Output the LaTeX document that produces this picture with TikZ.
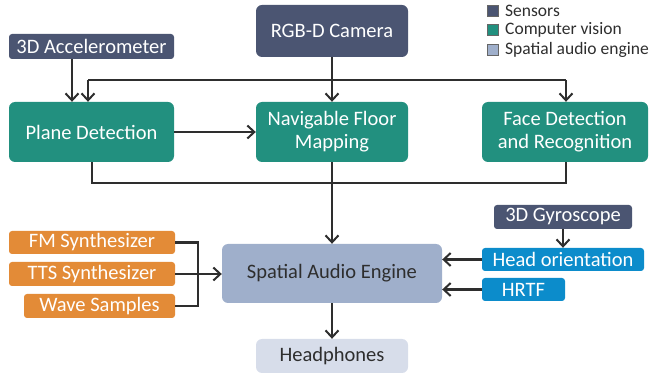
\documentclass[tikz,border=0pt]{standalone}
\usepackage{fontspec}
\setmainfont{Carlito}
\usetikzlibrary{arrows.meta}
\definecolor{sensor}{HTML}{4B5572}
\definecolor{cv}{HTML}{22907F}
\definecolor{sae}{HTML}{9FAFCB}
\definecolor{hp}{HTML}{D7DDEA}
\definecolor{orng}{HTML}{E38B37}
\definecolor{blu}{HTML}{0C8CCB}
\definecolor{txt}{HTML}{2E2E2E}
\tikzset{
  box/.style={rectangle, inner sep=0pt, align=center, font=\fontsize{20.5}{23}\selectfont},
  big/.style={box, rounded corners=6pt},
  small/.style={box, rounded corners=3pt},
  arr/.style={line width=2.2pt, draw=txt, -{Straight Barb[length=7pt,width=13pt,line width=2pt]}},
  ln/.style={line width=2.2pt, draw=txt},
  leg/.style={rectangle, draw=gray!80!black, line width=0.8pt, minimum size=11pt, inner sep=0pt},
  legt/.style={anchor=west, inner sep=0pt, text=txt, font=\fontsize{17.5}{20}\selectfont},
}
\begin{document}
\begin{tikzpicture}[x=1pt,y=-1pt]
\useasboundingbox (0,0) rectangle (662,374);
% nodes
\node[big, fill=sensor, text=white, minimum width=152pt, minimum height=52pt] (cam) at (332,31) {RGB-D Camera};
\node[small, fill=sensor, text=white, minimum width=165pt, minimum height=25pt] (acc) at (91.5,46.5) {3D Accelerometer};
\node[big, fill=cv, text=white, minimum width=165pt, minimum height=60pt] (plane) at (91.5,132) {Plane Detection};
\node[big, fill=cv, text=white, minimum width=152pt, minimum height=60pt] (floor) at (332,132) {Navigable Floor\\Mapping};
\node[big, fill=cv, text=white, minimum width=166pt, minimum height=60pt] (face) at (565,132) {Face Detection\\and Recognition};
\node[big, fill=sae, text=txt, minimum width=220pt, minimum height=59pt] (engine) at (332,273.5) {Spatial Audio Engine};
\node[big, fill=hp, text=txt, minimum width=152pt, minimum height=34pt] (phones) at (332,356) {Headphones};
\node[small, fill=orng, text=white, minimum width=166pt, minimum height=23pt] (fm) at (92,242.5) {FM Synthesizer};
\node[small, fill=orng, text=white, minimum width=166pt, minimum height=24pt] (tts) at (92,274) {TTS Synthesizer};
\node[small, fill=orng, text=white, minimum width=151pt, minimum height=24pt] (wave) at (99.5,306) {Wave Samples};
\node[small, fill=sensor, text=white, minimum width=138pt, minimum height=24pt] (gyro) at (563,217) {3D Gyroscope};
\node[small, fill=blu, text=white, minimum width=162pt, minimum height=23pt] (hor) at (563,259.5) {Head orientation};
\node[small, fill=blu, text=white, minimum width=83pt, minimum height=23pt] (hrtf) at (523.5,289.5) {HRTF};
% legend
\node[leg, fill=sensor] (l1) at (492.5,10.5) {};
\node[leg, fill=cv] (l2) at (492.5,29.5) {};
\node[leg, fill=sae] (l3) at (492.5,50) {};
\node[legt] (t1) at (505,10.5) {Sensors};
\node[legt] (t2) at (505,29.5) {Computer vision};
\node[legt] (t3) at (505,50) {Spatial audio engine};
% coordinates
\coordinate (busL) at (88,80);
\coordinate (busR) at (566,80);
\coordinate (busM) at (332,80);
\coordinate (accx) at (72,0);
\coordinate (b2L) at (92,183);
\coordinate (b2R) at (566,183);
\coordinate (brk) at (198,0);
% connectors
\draw[arr] (cam.south) -- (floor.north);
\draw[ln] (busM) -- (busL);
\draw[arr] (busL) -- (busL |- plane.north);
\draw[ln] (busM) -- (busR);
\draw[arr] (busR) -- (busR |- face.north);
\draw[arr] (accx |- acc.south) -- (accx |- plane.north);
\draw[arr] (plane.east) -- (floor.west);
\draw[ln] (b2L |- plane.south) -- (b2L) -- (b2R) -- (b2R |- face.south);
\draw[arr] (floor.south) -- (engine.north);
\draw[ln] (fm.east) -- (fm.east -| brk) -- (wave.east -| brk) -- (wave.east);
\draw[arr] (tts.east) -- (engine.west |- tts.east);
\draw[arr] (gyro.south) -- (hor.north -| gyro.south);
\draw[arr] (hor.west) -- (hor.west -| engine.east);
\draw[arr] (hrtf.west) -- (hrtf.west -| engine.east);
\draw[arr] (engine.south) -- (phones.north);
\end{tikzpicture}
\end{document}
